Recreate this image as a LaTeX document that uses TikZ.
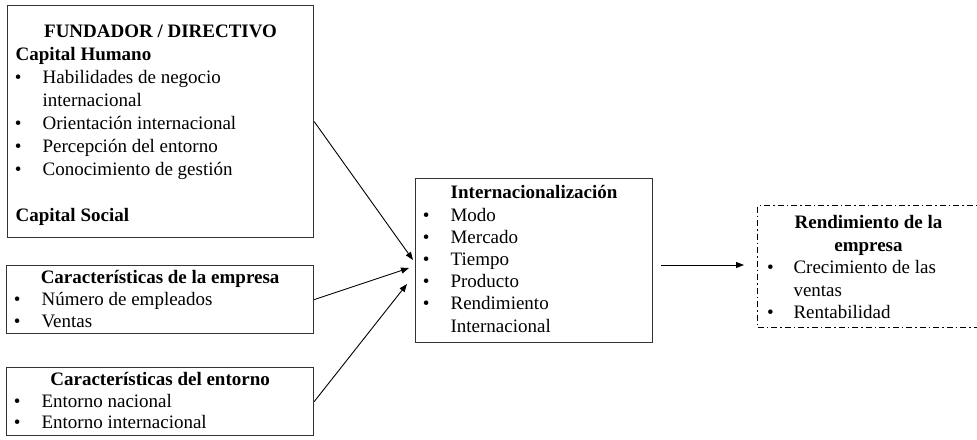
\documentclass[tikz,border=0pt]{standalone}
\usepackage{fontspec}
\setmainfont{Liberation Serif}
\usetikzlibrary{arrows.meta}

% horizontal positions of the bullet glyph and of the item text inside a panel
\newlength\bulx
\newlength\txtx
\setlength\bulx{7.2pt}
\setlength\txtx{35pt}

% panel body: width, height, line pitch, space above the first line, lines
\newcommand\panelbody[5]{%
  \parbox[c][#2pt][t]{#1pt}{%
    \fontsize{19}{#3}\selectfont\setlength\parindent{0pt}\setlength\parskip{0pt}%
    \vspace*{#4pt}#5}}
\newcommand\ttl[1]{\noindent\makebox[\linewidth][c]{\strut\bfseries #1}\par}
\newcommand\bl[1]{\noindent\strut\makebox[\txtx][l]{\hspace*{\bulx}\textbullet}#1\par}
\newcommand\cont[1]{\noindent\strut\hspace*{\txtx}#1\par}
\newcommand\bline[1]{\noindent\strut\hspace*{8pt}\textbf{#1}\par}
\newcommand\blank{\noindent\strut\par}

\begin{document}
\begin{tikzpicture}[x=1pt,y=-1pt,
  panel/.style={draw=black!80, line width=1.2pt, inner sep=0pt, anchor=north west},
  outpanel/.style={panel, draw=black, line width=1pt,
    dash pattern=on 6pt off 3pt on 1.5pt off 3pt},
  link/.style={-{Triangle[length=8pt,width=6pt]}, line width=0.9pt}]
\useasboundingbox (0,0) rectangle (977,439);

% founder / manager
\node[panel] (fund) at (7,5) {\panelbody{306}{232}{23}{15.9}{%
  \ttl{FUNDADOR / DIRECTIVO}
  \bline{Capital Humano}
  \bl{Habilidades de negocio}
  \cont{internacional}
  \bl{Orientación internacional}
  \bl{Percepción del entorno}
  \bl{Conocimiento de gestión}
  \blank
  \bline{Capital Social}}};

% firm characteristics
\node[panel] (emp) at (6,265) {\panelbody{307}{68}{22}{2.6}{%
  \ttl{Características de la empresa}
  \bl{Número de empleados}
  \bl{Ventas}}};

% environment characteristics
\node[panel] (ent) at (6,367) {\panelbody{307}{68}{21.7}{2.8}{%
  \ttl{Características del entorno}
  \bl{Entorno nacional}
  \bl{Entorno internacional}}};

% internationalisation
\node[panel] (int) at (415,178) {\panelbody{237}{164}{22.2}{4.8}{%
  \ttl{Internacionalización}
  \bl{Modo}
  \bl{Mercado}
  \bl{Tiempo}
  \bl{Producto}
  \bl{Rendimiento}
  \cont{Internacional}}};

% firm performance
\node[outpanel] (rend) at (757,205) {\setlength\bulx{9.7pt}\setlength\txtx{36pt}%
  \panelbody{222}{122}{22.6}{7.2}{%
  \ttl{Rendimiento de la}
  \ttl{empresa}
  \bl{Crecimiento de las}
  \cont{ventas}
  \bl{Rentabilidad}}};

% arrow tips and the free ends of the output arrow
\coordinate (t1) at (413,260);
\coordinate (t2) at (409,268);
\coordinate (t3) at (407,284);
\coordinate (o1) at (661,265);
\coordinate (o2) at (744,265);

\draw[link] (fund.east) -- (t1);
\draw[link] (emp.east) -- (t2);
\draw[link] (ent.east) -- (t3);
\draw[link] (o1) -- (o2);
\end{tikzpicture}
\end{document}
